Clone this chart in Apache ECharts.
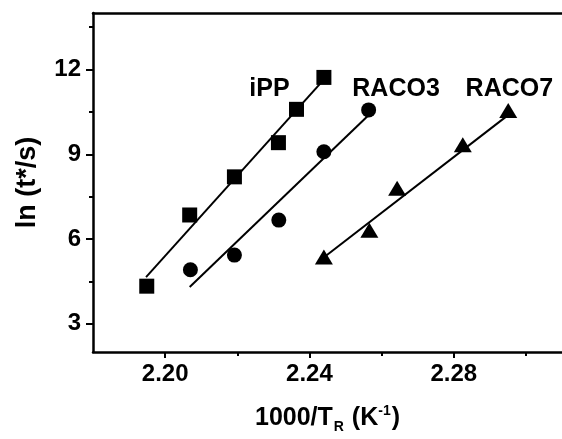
<!DOCTYPE html>
<html>
<head>
<meta charset="utf-8">
<script src="https://cdn.jsdelivr.net/npm/echarts@6/dist/echarts.min.js"></script>
<style>
  html, body { margin: 0; padding: 0; background: #fff; }
  #main { width: 562px; height: 439px; }
</style>
</head>
<body>
<div id="main"></div>
<script>
// values
const ippX = [2.1949, 2.2068, 2.2192, 2.2314, 2.2364, 2.2440];
const ippY = [4.33, 6.85, 8.20, 9.41, 10.59, 11.72];
const raco3X = [2.2070, 2.2192, 2.2315, 2.2440, 2.2564];
const raco3Y = [4.91, 5.43, 6.67, 9.09, 10.57];
const raco7X = [2.2440, 2.2566, 2.2643, 2.2825, 2.2951];
const raco7Y = [5.36, 6.31, 7.80, 9.34, 10.55];

// fitted lines, end points
const ippFitX = [2.1947, 2.2431];
const ippFitY = [4.65, 11.52];
const raco3FitX = [2.2068, 2.2563];
const raco3FitY = [4.30, 10.37];
const raco7FitX = [2.2444, 2.2955];
const raco7FitY = [5.39, 10.43];

const names = ["iPP", "RACO3", "RACO7"];
const nameX = [2.2289, 2.2640, 2.2954];
const nameY = [11.29, 11.32, 11.32];

const yTicks = [3, 6, 9, 12];
const yMinor = [4.5, 7.5, 10.5, 13.5];
const xTicks = [2.20, 2.24, 2.28];
const xMinor = [2.22, 2.26, 2.30];

const zip = (a, b) => a.map((v, i) => [v, b[i]]);

const font = "'Liberation Sans', Arial, sans-serif";
const ink = "#000";

const chart = echarts.init(document.getElementById("main"));

const scatter = (x, y, symbol, size) => ({
  type: "scatter",
  data: zip(x, y),
  symbol: symbol,
  symbolSize: size,
  itemStyle: { color: ink, opacity: 1 },
  z: 5,
});
const fit = (x, y) => ({
  type: "line",
  data: zip(x, y),
  showSymbol: false,
  lineStyle: { color: ink, width: 2 },
  z: 4,
});

chart.setOption({
  animation: false,
  grid: { left: 93, right: -6, top: 13, bottom: 77 },
  xAxis: [
    {
      type: "value", min: 2.18, max: 2.31,
      axisLine: { lineStyle: { color: ink, width: 2.5 } },
      axisTick: { customValues: xTicks, length: 6, lineStyle: { width: 2, color: ink } },
      axisLabel: {
        customValues: xTicks, margin: 10,
        formatter: (v) => v.toFixed(2),
        color: ink, fontSize: 24, fontWeight: "bold", fontFamily: font,
      },
      splitLine: { show: false },
      name: "{a|1000/T}{sub|R}{a| (K}{sup|-1}{a|)}",
      nameLocation: "middle", nameGap: 50,
      nameTextStyle: {
        color: ink, fontFamily: font, fontWeight: "bold",
        rich: {
          a: { fontSize: 25, fontWeight: "bold", fontFamily: font, color: ink },
          sub: { fontSize: 14, fontWeight: "bold", fontFamily: font, color: ink, padding: [18, 1, 0, 1] },
          sup: { fontSize: 14, fontWeight: "bold", fontFamily: font, color: ink, padding: [0, 1, 14, 0] },
        },
      },
    },
    {
      type: "value", min: 2.18, max: 2.31, position: "bottom",
      axisLine: { show: false },
      axisTick: { customValues: xMinor, length: 4, lineStyle: { width: 2, color: ink } },
      axisLabel: { show: false },
      splitLine: { show: false },
    },
    {
      type: "value", min: 2.18, max: 2.31, position: "top",
      axisLine: { show: true, lineStyle: { color: ink, width: 2.5 } },
      axisTick: { show: false },
      axisLabel: { show: false },
      splitLine: { show: false },
    },
  ],
  yAxis: [
    {
      type: "value", min: 2, max: 14,
      axisLine: { show: true, lineStyle: { color: ink, width: 2.5 } },
      axisTick: { show: true, customValues: yTicks, length: 7, lineStyle: { width: 2, color: ink } },
      axisLabel: {
        customValues: yTicks, margin: 12,
        color: ink, fontSize: 24, fontWeight: "bold", fontFamily: font,
      },
      splitLine: { show: false },
      name: "ln (t*/s)",
      nameLocation: "middle", nameGap: 52,
      nameTextStyle: { color: ink, fontSize: 27, fontWeight: "bold", fontFamily: font },
    },
    {
      type: "value", min: 2, max: 14, position: "left",
      axisLine: { show: false },
      axisTick: { show: true, customValues: yMinor, length: 4, lineStyle: { width: 2, color: ink } },
      axisLabel: { show: false },
      splitLine: { show: false },
    },
  ],
  series: [
    fit(ippFitX, ippFitY),
    fit(raco3FitX, raco3FitY),
    fit(raco7FitX, raco7FitY),
    scatter(ippX, ippY, "rect", 15),
    scatter(raco3X, raco3Y, "circle", 15),
    scatter(raco7X, raco7Y, "triangle", [18, 15]),
    {
      type: "scatter",
      data: names.map((n, i) => ({ name: n, value: [nameX[i], nameY[i]] })),
      symbolSize: 0,
      itemStyle: { opacity: 1 },
      label: {
        show: true, position: "inside",
        formatter: (p) => p.name,
        color: ink, fontSize: 25, fontWeight: "bold", fontFamily: font,
      },
      z: 6,
    },
  ],
});
</script>
</body>
</html>
